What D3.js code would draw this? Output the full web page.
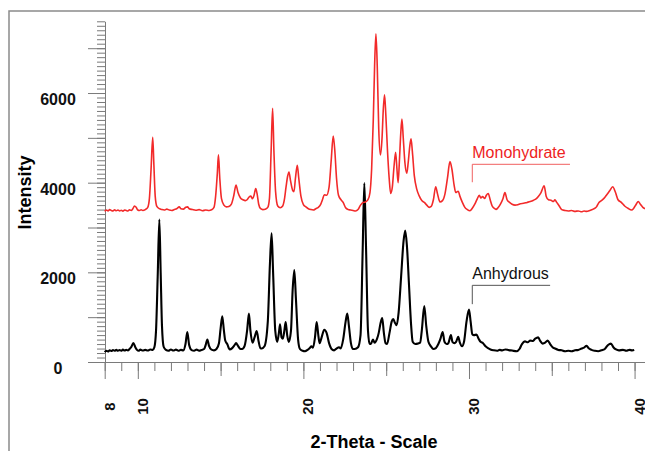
<!DOCTYPE html>
<html lang="en">
<head>
  <meta charset="UTF-8">
  <title>XRD</title>
  <style>
    body { margin: 0; background: #fff; }
    svg { display: block; font-family: "Liberation Sans", Arial, sans-serif; }
  </style>
</head>
<body>
  <div id="chart"></div>
</body>
<script src="https://cdn.jsdelivr.net/npm/d3@7"></script>
<script>
  // series: [2-theta, intensity]
  var monohydrate = [
    [8.0,3360],[8.1,3390],[8.2,3370],[8.3,3400],[8.4,3380],[8.5,3370],[8.6,3395],[8.7,3375],[8.8,3390],[8.9,3370],
    [9.0,3385],[9.1,3365],[9.2,3390],[9.3,3380],[9.4,3370],[9.5,3395],[9.6,3380],[9.7,3420],[9.8,3480],[9.9,3450],
    [10.0,3390],[10.1,3380],[10.2,3395],[10.3,3380],[10.45,3400],[10.6,3450],[10.7,3650],[10.8,4300],[10.9,5010],[10.97,4400],
    [11.05,3700],[11.15,3470],[11.3,3420],[11.45,3400],[11.6,3390],[11.75,3410],[11.9,3390],[12.05,3380],[12.2,3400],[12.35,3420],
    [12.5,3460],[12.6,3420],[12.75,3410],[12.9,3450],[13.0,3460],[13.1,3420],[13.3,3400],[13.5,3385],[13.7,3400],[13.9,3375],
    [14.1,3390],[14.3,3380],[14.45,3395],[14.6,3450],[14.7,3700],[14.8,4200],[14.87,4620],[14.95,4100],[15.05,3650],[15.2,3500],
    [15.35,3460],[15.5,3470],[15.65,3520],[15.8,3720],[15.93,3950],[16.05,3780],[16.2,3660],[16.35,3620],[16.5,3600],[16.6,3620],
    [16.72,3680],[16.83,3700],[16.92,3640],[17.02,3720],[17.12,3870],[17.2,3760],[17.3,3520],[17.42,3420],[17.55,3400],[17.7,3410],
    [17.85,3450],[17.95,3650],[18.05,4700],[18.14,5660],[18.22,4700],[18.32,3800],[18.45,3480],[18.6,3440],[18.75,3480],[18.85,3620],
    [18.95,3900],[19.05,4150],[19.13,4240],[19.22,4050],[19.35,3830],[19.43,3800],[19.52,4100],[19.63,4390],[19.72,4100],[19.85,3700],
    [20.0,3510],[20.15,3460],[20.3,3420],[20.45,3400],[20.6,3390],[20.75,3420],[20.9,3450],[21.05,3520],[21.15,3620],[21.26,3730],
    [21.4,3720],[21.55,3900],[21.68,4500],[21.8,5040],[21.9,4700],[22.0,4100],[22.12,3720],[22.27,3620],[22.4,3560],[22.55,3440],
    [22.7,3400],[22.85,3390],[23.0,3380],[23.15,3370],[23.3,3400],[23.45,3500],[23.6,3560],[23.75,3570],[23.9,3620],[24.02,3780],
    [24.12,4300],[24.22,5400],[24.3,6600],[24.38,7320],[24.46,6600],[24.55,5200],[24.65,4620],[24.75,5000],[24.82,5600],[24.9,5960],
    [24.98,5500],[25.08,4700],[25.18,4100],[25.27,3760],[25.37,3900],[25.47,4350],[25.57,4680],[25.65,4300],[25.72,4000],[25.8,4500],
    [25.88,5100],[25.95,5420],[26.03,5000],[26.13,4450],[26.24,4210],[26.33,4450],[26.42,4800],[26.5,4980],[26.58,4700],[26.7,4150],
    [26.85,3850],[27.0,3700],[27.15,3600],[27.3,3560],[27.45,3500],[27.6,3450],[27.72,3470],[27.85,3620],[27.99,3910],[28.1,3750],
    [28.25,3570],[28.4,3600],[28.55,3750],[28.7,4100],[28.85,4470],[28.97,4300],[29.1,3950],[29.2,3780],[29.35,3810],[29.45,3700],
    [29.6,3560],[29.75,3450],[29.9,3400],[30.06,3375],[30.2,3430],[30.35,3520],[30.5,3640],[30.62,3720],[30.72,3660],[30.82,3690],
    [30.95,3650],[31.05,3720],[31.16,3760],[31.28,3620],[31.4,3480],[31.52,3430],[31.63,3405],[31.75,3440],[31.9,3520],[32.05,3640],
    [32.17,3780],[32.3,3620],[32.45,3560],[32.6,3520],[32.78,3500],[32.95,3510],[33.1,3530],[33.3,3540],[33.5,3560],[33.7,3580],
    [33.9,3610],[34.05,3640],[34.2,3700],[34.35,3780],[34.54,3930],[34.66,3700],[34.8,3620],[34.95,3610],[35.1,3580],[35.19,3620],
    [35.3,3560],[35.45,3480],[35.6,3400],[35.8,3380],[36.0,3370],[36.2,3380],[36.4,3360],[36.6,3370],[36.8,3350],[36.95,3370],
    [37.1,3360],[37.3,3380],[37.5,3410],[37.7,3460],[37.85,3560],[38.0,3600],[38.15,3650],[38.3,3720],[38.5,3820],[38.68,3910],
    [38.85,3780],[39.0,3620],[39.2,3560],[39.4,3480],[39.6,3430],[39.82,3390],[39.95,3430],[40.1,3520],[40.22,3580],[40.35,3520],
    [40.5,3450],[40.63,3420]
  ]

  var anhydrous = [
    [8.0,220],[8.1,250],[8.2,235],[8.3,260],[8.4,245],[8.5,265],[8.6,250],[8.7,270],[8.8,250],[8.9,265],
    [9.0,250],[9.1,275],[9.2,255],[9.3,270],[9.4,260],[9.5,290],[9.6,330],[9.73,420],[9.85,330],[9.95,270],
    [10.05,250],[10.15,275],[10.3,255],[10.45,270],[10.6,255],[10.75,280],[10.9,270],[11.0,330],[11.1,700],[11.2,1900],
    [11.3,3180],[11.38,2000],[11.46,800],[11.56,340],[11.7,270],[11.85,250],[12.0,280],[12.15,255],[12.3,275],[12.45,250],
    [12.6,270],[12.75,260],[12.88,400],[12.99,670],[13.1,380],[13.25,265],[13.4,250],[13.55,275],[13.7,250],[13.85,270],
    [14.0,290],[14.1,380],[14.2,500],[14.3,360],[14.45,275],[14.6,260],[14.75,290],[14.9,420],[15.0,750],[15.1,1020],
    [15.2,700],[15.28,480],[15.4,400],[15.55,280],[15.7,310],[15.85,380],[15.93,420],[16.05,360],[16.2,290],[16.3,290],
    [16.45,360],[16.6,700],[16.71,1080],[16.8,700],[16.93,430],[17.05,550],[17.18,690],[17.3,450],[17.4,310],[17.48,300],
    [17.65,350],[17.85,900],[17.98,2200],[18.08,2870],[18.17,2000],[18.3,700],[18.42,450],[18.52,650],[18.59,840],[18.68,550],
    [18.76,520],[18.85,700],[18.93,890],[19.02,600],[19.12,450],[19.25,700],[19.35,1600],[19.45,2050],[19.55,1400],[19.68,500],
    [19.79,290],[19.95,250],[20.1,240],[20.25,270],[20.4,320],[20.48,350],[20.58,320],[20.7,550],[20.8,890],[20.9,600],
    [20.98,420],[21.1,550],[21.26,720],[21.4,650],[21.55,420],[21.7,290],[21.85,260],[22.0,300],[22.15,330],[22.25,300],
    [22.4,500],[22.55,900],[22.65,1080],[22.75,800],[22.87,420],[22.98,290],[23.1,290],[23.3,330],[23.45,600],[23.58,2500],
    [23.68,3990],[23.78,2600],[23.9,700],[24.0,400],[24.1,420],[24.2,500],[24.3,430],[24.45,520],[24.55,650],[24.66,870],
    [24.76,980],[24.86,650],[24.96,420],[25.05,400],[25.2,650],[25.33,900],[25.43,960],[25.52,880],[25.63,820],[25.75,1100],
    [25.9,1900],[26.05,2700],[26.15,2930],[26.25,2600],[26.38,1700],[26.5,850],[26.6,450],[26.75,400],[26.9,410],[27.05,430],
    [27.15,700],[27.3,1250],[27.42,800],[27.55,450],[27.7,350],[27.85,290],[28.0,310],[28.15,400],[28.28,520],[28.41,670],
    [28.52,450],[28.65,400],[28.75,420],[28.91,600],[29.0,450],[29.12,420],[29.22,450],[29.35,560],[29.45,430],[29.58,350],
    [29.7,450],[29.85,900],[30.0,1170],[30.1,900],[30.2,620],[30.3,600],[30.45,610],[30.58,520],[30.7,450],[30.85,420],
    [31.0,350],[31.15,310],[31.3,280],[31.5,260],[31.7,250],[31.85,270],[32.0,260],[32.2,280],[32.4,265],[32.6,255],
    [32.88,240],[33.05,290],[33.2,400],[33.38,460],[33.55,440],[33.7,480],[33.85,470],[34.0,520],[34.18,550],[34.3,470],
    [34.45,410],[34.6,430],[34.75,480],[34.9,400],[35.05,330],[35.2,300],[35.4,270],[35.6,260],[35.8,240],[36.0,250],
    [36.2,240],[36.4,260],[36.6,270],[36.8,300],[36.95,320],[37.1,360],[37.25,300],[37.4,270],[37.6,250],[37.8,240],
    [38.0,260],[38.2,290],[38.4,380],[38.57,410],[38.72,330],[38.88,280],[39.05,260],[39.3,270],[39.5,250],[39.7,270],
    [39.85,260],[39.98,270]
  ]

  var xLabels = [8, 10, 20, 30, 40]
  var yLabels = [0, 2000, 4000, 6000]

  // label name, 2-theta of leader, intensity of leader foot / elbow, 2-theta of leader end
  var notes = [
    { name: 'Monohydrate', t: 30.2, foot: 4010, elbow: 4410, end: 36.1, color: '#ee2222', line: '#f06060' },
    { name: 'Anhydrous',   t: 30.2, foot: 1290, elbow: 1710, end: 34.9, color: '#111', line: '#555' }
  ]

  var width = 645
  var height = 451

  var x = d3.scaleLinear().domain([8, 40.63]).range([104.7, 645])
  var y = d3.scaleLinear().domain([0, 7600]).range([362, 21.3])

  var svg = d3.select('#chart').append('svg')
    .attr('width', width)
    .attr('height', height)

  // outer frame
  svg.append('rect')
    .attr('x', 9).attr('y', 11)
    .attr('width', 700).attr('height', 500)
    .attr('fill', 'none')
    .attr('stroke', '#8a8a8a')
    .attr('stroke-width', 1.5)

  var axisColor = '#7a7a7a'

  // x axis: minor every degree, medium at 5s, long at 10s
  var gx = svg.append('g').attr('transform', 'translate(0,362)')
  gx.append('g').call(d3.axisBottom(x).tickValues(d3.range(8, 41)).tickSize(9).tickSizeOuter(0).tickFormat(''))
  gx.append('g').call(d3.axisBottom(x).tickValues([15, 25, 35]).tickSize(14).tickSizeOuter(0).tickFormat(''))
    .select('.domain').remove()
  gx.append('g').call(d3.axisBottom(x).tickValues(xLabels).tickSize(17).tickSizeOuter(0).tickFormat(d3.format('d')))
    .call(g => g.select('.domain').remove())
    .selectAll('text')
    .attr('transform', 'rotate(-90)')
    .attr('x', -44.5).attr('y', 9.5).attr('dy', 0)
    .attr('text-anchor', 'middle')
    .style('font-size', '15px').style('font-weight', 'bold')
    .attr('fill', '#111')
  gx.selectAll('line, path').attr('stroke', axisColor)

  // y axis: minor every 100, long every 1000
  var gy = svg.append('g').attr('transform', 'translate(105,0)')
  gy.append('g').call(d3.axisLeft(y).tickValues(d3.range(0, 7601, 100)).tickSize(8).tickSizeOuter(0).tickFormat(''))
  gy.append('g').call(d3.axisLeft(y).tickValues(d3.range(0, 7001, 1000)).tickSize(17).tickSizeOuter(0).tickFormat(''))
    .select('.domain').remove()
  gy.append('g').call(d3.axisLeft(y).tickValues(yLabels).tickSize(0).tickSizeOuter(0).tickFormat(d3.format('d')))
    .call(g => g.select('.domain').remove())
    .selectAll('text')
    .attr('x', -47).attr('y', 11.5).attr('dy', 0)
    .attr('text-anchor', 'middle')
    .style('font-size', '16px').style('font-weight', 'bold')
    .attr('fill', '#111')
  gy.selectAll('line, path').attr('stroke', axisColor)

  // axis titles
  svg.append('text')
    .attr('transform', 'translate(30.5,192.5) rotate(-90)')
    .attr('text-anchor', 'middle')
    .style('font-size', '18px').style('font-weight', 'bold')
    .text('Intensity')
  svg.append('text')
    .attr('x', 374).attr('y', 448)
    .attr('text-anchor', 'middle')
    .style('font-size', '18px').style('font-weight', 'bold')
    .text('2-Theta - Scale')

  // patterns
  var line = d3.line().x(d => x(d[0])).y(d => y(d[1])).curve(d3.curveMonotoneX)

  svg.append('path').datum(anhydrous)
    .attr('d', line)
    .attr('fill', 'none')
    .attr('stroke', '#000')
    .attr('stroke-width', 2.1)
    .attr('stroke-linejoin', 'round')

  svg.append('path').datum(monohydrate)
    .attr('d', line)
    .attr('fill', 'none')
    .attr('stroke', '#f22a2a')
    .attr('stroke-width', 1.6)
    .attr('stroke-linejoin', 'round')

  // labels with leaders
  var note = svg.selectAll('.note').data(notes).enter().append('g').attr('class', 'note')
  note.append('path')
    .attr('d', d => `M${x(d.t)},${y(d.foot)}V${y(d.elbow)}H${x(d.end)}`)
    .attr('fill', 'none')
    .attr('stroke', d => d.line)
    .attr('stroke-width', 1)
  note.append('text')
    .attr('x', d => x(d.t))
    .attr('y', d => y(d.elbow) - 6)
    .attr('fill', d => d.color)
    .style('font-size', '16px')
    .text(d => d.name)
</script>
</html>
